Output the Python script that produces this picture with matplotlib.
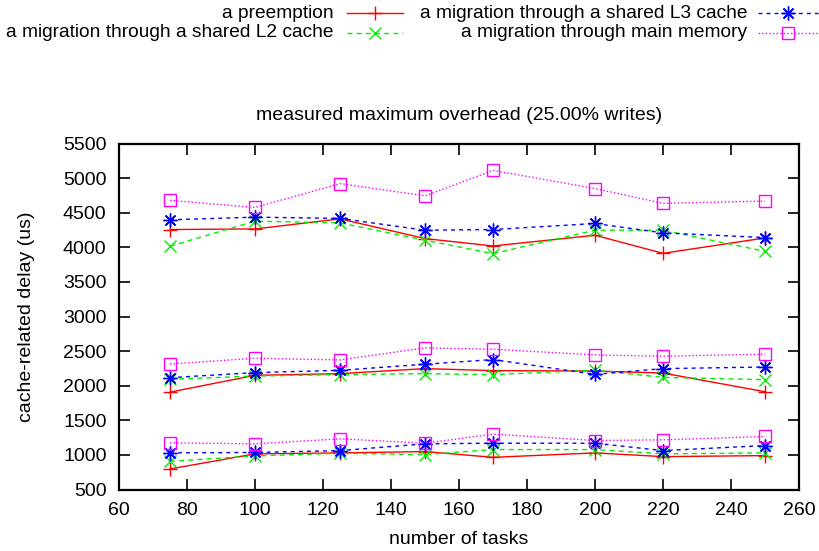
import matplotlib
matplotlib.use("Agg")
import matplotlib.pyplot as plt
from matplotlib.lines import Line2D

plt.rcParams['font.family'] = ['Liberation Sans', 'DejaVu Sans']

tasks = [75, 100, 125, 150, 170, 200, 220, 250]

# three working-set groups, each with four migration scenarios
preemption = [
    [4257, 4265, 4411, 4126, 4019, 4174, 3913, 4135],
    [1907, 2150, 2174, 2247, 2218, 2212, 2183, 1913],
    [797, 1015, 1029, 1048, 965, 1029, 975, 990],
]
shared_l2 = [
    [4015, 4378, 4353, 4102, 3908, 4247, 4247, 3942],
    [2092, 2140, 2160, 2174, 2160, 2225, 2120, 2087],
    [907, 985, 1024, 1004, 1077, 1077, 1015, 1029],
]
shared_l3 = [
    [4397, 4436, 4417, 4247, 4257, 4344, 4208, 4141],
    [2116, 2189, 2222, 2310, 2378, 2164, 2247, 2270],
    [1029, 1035, 1062, 1160, 1169, 1169, 1062, 1135],
]
main_memory = [
    [4678, 4576, 4920, 4743, 5111, 4849, 4635, 4668],
    [2314, 2397, 2372, 2547, 2527, 2445, 2426, 2455],
    [1174, 1160, 1232, 1169, 1300, 1208, 1218, 1266],
]

labels = [
    "a preemption",
    "a migration through a shared L2 cache",
    "a migration through a shared L3 cache",
    "a migration through main memory",
]
title = "measured maximum overhead (25.00% writes)"
xlabel = "number of tasks"
ylabel = "cache-related delay (us)"

styles = [
    dict(color="#ff0000", linestyle="-", marker="+", ms=9.5, mew=1.0),
    dict(color="#00ee00", linestyle=(0, (3.6, 3)), marker="x", ms=8.5, mew=1.0),
    dict(color="#0000ff", linestyle=(0, (2.8, 3)), marker=(8, 2, 0), ms=10, mew=1.0),
    dict(color="#ff00ff", linestyle=(0, (1, 1.6)), marker="s", ms=8, mew=1.0,
         mfc="none"),
]
series = [preemption, shared_l2, shared_l3, main_memory]

FS = 14
W, H = 819, 551
fig = plt.figure(figsize=(W / 100, H / 100), dpi=100)
ax = fig.add_axes([119 / W, 1 - 489.5 / H, (799 - 119) / W, (489.5 - 143.5) / H])

for groups, st in zip(series, styles):
    for g in groups:
        ax.plot(tasks, g, lw=1.0, **st)

ax.set_xlim(60, 260)
ax.set_ylim(500, 5500)
ax.set_xticks(range(60, 261, 20))
ax.set_yticks(range(500, 5501, 500))
ax.tick_params(direction="in", length=8, width=1.2, top=True, right=True,
               labelsize=FS, pad=9)
for sp in ax.spines.values():
    sp.set_linewidth(1.6)

fig.text(459 / W, 1 - 120 / H, title, ha="center", va="baseline", fontsize=FS)
fig.text(459 / W, 1 - 544 / H, xlabel, ha="center", va="baseline", fontsize=FS)
fig.text(27 / W, 1 - 316.5 / H, ylabel, ha="center", va="center",
         rotation=90, fontsize=FS)

# key at the top, text right-aligned before each sample
key_pos = [
    (334, 13.3, 347, 403),
    (334, 32.7, 347, 403),
    (747, 13.3, 758, 818),
    (747, 32.7, 758, 818),
]
for lab, st, (tx, ty, x0, x1) in zip(labels, styles, key_pos):
    fy = 1 - ty / H
    fig.text(tx / W, fy, lab, ha="right", va="center", fontsize=13.8)
    fig.add_artist(Line2D([x0 / W, x1 / W], [fy, fy], transform=fig.transFigure,
                          color=st["color"], linestyle=st["linestyle"], lw=1.0))
    fig.add_artist(Line2D([(x0 + x1) / 2 / W], [fy], transform=fig.transFigure,
                          color=st["color"], linestyle="none", marker=st["marker"],
                          ms=st["ms"], mew=st["mew"], mfc=st.get("mfc", st["color"])))

fig.savefig("out.png", dpi=100)
